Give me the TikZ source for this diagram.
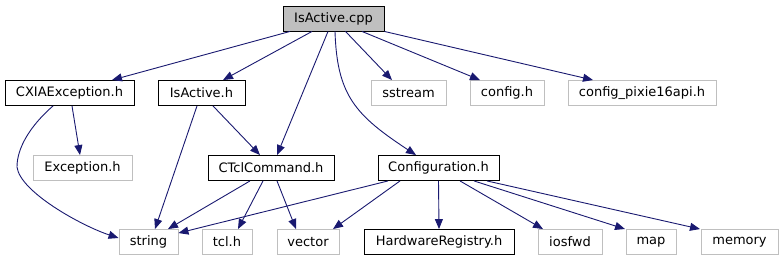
\documentclass[tikz,border=0pt]{standalone}
\usepackage{fontspec}
\setmainfont{DejaVu Sans}
\usetikzlibrary{arrows.meta}
\definecolor{edgeblue}{HTML}{191970}
\definecolor{boxgray}{HTML}{BFBFBF}
\tikzset{
  box/.style={draw=black, fill=white, line width=0.9pt, inner sep=0pt, minimum height=25pt, font=\fontsize{13}{15}\selectfont, text=black},
  grbox/.style={box, draw=boxgray},
  mainbox/.style={box, fill=boxgray},
  e/.style={draw=edgeblue, line width=0.9pt, -{Triangle[length=10pt,width=8pt]}},
}
\begin{document}
\begin{tikzpicture}[x=1pt,y=-1pt]
\useasboundingbox (0,0) rectangle (783,261);
% nodes
\node[mainbox, minimum width=101pt] (cpp) at (333.5,18.5) {IsActive.cpp};
\node[box, minimum width=129pt] (cxia) at (69.5,93) {CXIAException.h};
\node[box, minimum width=87pt] (isah) at (201.5,93) {IsActive.h};
\node[grbox, minimum width=75pt] (sstream) at (408.5,93) {sstream};
\node[grbox, minimum width=74pt] (configh) at (507,93) {config.h};
\node[grbox, minimum width=148pt] (pixie) at (642,93) {config\_pixie16api.h};
\node[grbox, minimum width=99pt] (exc) at (82.5,168) {Exception.h};
\node[box, minimum width=126pt] (tcl) at (271,168) {CTclCommand.h};
\node[box, minimum width=121pt] (conf) at (438.5,168) {Configuration.h};
\node[grbox, minimum width=59pt] (string) at (148.5,242) {string};
\node[grbox, minimum width=50pt] (tclh) at (227,242) {tcl.h};
\node[grbox, minimum width=62pt] (vector) at (308,242) {vector};
\node[box, minimum width=150pt] (hw) at (439,242) {HardwareRegistry.h};
\node[grbox, minimum width=64pt] (iosfwd) at (570,242) {iosfwd};
\node[grbox, minimum width=50pt] (map) at (651,242) {map};
\node[grbox, minimum width=77pt] (memory) at (739.5,242) {memory};
% edges from IsActive.cpp
\draw[e] ([xshift=-43.5pt]cpp.south) -- ([xshift=42.5pt]cxia.north);
\draw[e] ([xshift=-21.5pt]cpp.south) -- ([xshift=21.5pt]isah.north);
\draw[e] ([xshift=-5.5pt]cpp.south) -- ([xshift=6pt]tcl.north);
\draw[e] ([xshift=1.5pt]cpp.south) .. controls (337,95) and (355,115) .. ([xshift=-22.5pt]conf.north);
\draw[e] ([xshift=12pt]cpp.south) -- ([xshift=-16.5pt]sstream.north);
\draw[e] ([xshift=28.5pt]cpp.south) -- ([xshift=-27pt]configh.north);
\draw[e] (cpp.south east) -- ([xshift=-49pt]pixie.north);
% CXIAException.h
\draw[e] ([xshift=2.5pt]cxia.south) -- ([xshift=-2.5pt]exc.north);
\draw[e] ([xshift=-16.5pt]cxia.south) .. controls (30,126) and (17,148) .. (17,167)
  .. controls (20,192) and (82,226) .. ([yshift=4pt]string.west);
% IsActive.h
\draw[e] ([xshift=-4.5pt]isah.south) -- ([xshift=6.5pt]string.north);
\draw[e] ([xshift=11.5pt]isah.south) -- ([xshift=-11pt]tcl.north);
% CTclCommand.h
\draw[e] ([xshift=-21pt]tcl.south) -- ([xshift=19.5pt]string.north);
\draw[e] ([xshift=-8pt]tcl.south) -- ([xshift=11pt]tclh.north);
\draw[e] ([xshift=6pt]tcl.south) -- ([xshift=-12pt]vector.north);
% Configuration.h
\draw[e] ([xshift=-50.5pt]conf.south) -- ([yshift=-4pt]string.north east);
\draw[e] ([xshift=-38.5pt]conf.south) -- ([xshift=25pt]vector.north);
\draw[e] (conf.south) -- (hw.north);
\draw[e] ([xshift=21.5pt]conf.south) -- ([xshift=-27pt]iosfwd.north);
\draw[e] ([xshift=35.5pt]conf.south) -- ([xshift=-26pt]map.north);
\draw[e] ([xshift=48.5pt]conf.south) -- ([xshift=-39.5pt]memory.north);
\end{tikzpicture}
\end{document}
